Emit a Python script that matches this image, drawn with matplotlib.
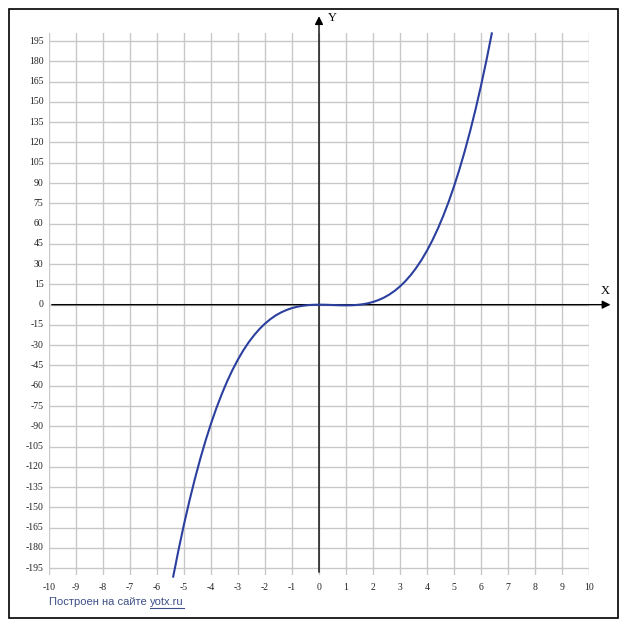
import matplotlib
matplotlib.use("Agg")
import matplotlib.pyplot as plt
from matplotlib.patches import Rectangle
from matplotlib.lines import Line2D

# ------------------------------------------
# DATA
# ------------------------------------------
x_vals = [-5.4, -5.2, -5.0, -4.8, -4.6, -4.4, -4.2, -4.0, -3.8, -3.6,
          -3.4, -3.2, -3.0, -2.8, -2.6, -2.4, -2.2, -2.0, -1.8, -1.6,
          -1.4, -1.2, -1.0, -0.8, -0.6, -0.4, -0.2, 0.0, 0.2, 0.4,
          0.6, 0.8, 1.0, 1.2, 1.4, 1.6, 1.8, 2.0, 2.2, 2.4,
          2.6, 2.8, 3.0, 3.2, 3.4, 3.6, 3.8, 4.0, 4.2, 4.4,
          4.6, 4.8, 5.0, 5.2, 5.4, 5.6, 5.8, 6.0, 6.2, 6.4]
y_vals = [-201.2, -181.2, -162.5, -145.2, -129.1, -114.2, -100.5, -88.0, -76.5, -66.1,
          -56.6, -48.1, -40.5, -33.7, -27.7, -22.5, -17.9, -14.0, -10.7, -7.9,
          -5.7, -3.9, -2.5, -1.5, -0.8, -0.3, -0.1, 0.0, -0.05, -0.18,
          -0.32, -0.45, -0.5, -0.43, -0.2, 0.26, 0.97, 2.0, 3.39, 5.18,
          7.44, 10.19, 13.5, 17.41, 21.96, 27.22, 33.21, 40.0, 47.63, 56.14,
          65.6, 76.03, 87.5, 100.05, 113.72, 128.58, 144.65, 162.0, 180.67, 200.7]

x_ticks = list(range(-10, 11))
y_ticks = list(range(-195, 196, 15))

W, H = 627, 630
fig = plt.figure(figsize=(W / 100, H / 100), dpi=100)

# outer frame
fig.patches.append(Rectangle((9 / W, 12 / H), 609 / W, 609 / H, transform=fig.transFigure,
                             fill=False, edgecolor="black", linewidth=1.2))

ax = fig.add_axes([49 / W, 55 / H, 540 / W, 542 / H])
ax.set_xlim(-10, 10)
ax.set_ylim(-200, 201)
for s in ax.spines.values():
    s.set_visible(False)

# grid
for xv in x_ticks:
    ax.axvline(xv, color="#c8c8c8", linewidth=1, zorder=1)
for yv in y_ticks:
    ax.axhline(yv, color="#c8c8c8", linewidth=1, zorder=1)

ax.set_xticks([])
ax.set_yticks([])

tick_font = dict(family="Liberation Serif", fontsize=7, color="#222222")
for xv in x_ticks:
    ax.text(xv, -206, str(xv), ha="center", va="top", **tick_font)
for yv in y_ticks:
    ax.text(-10.2, yv, str(yv), ha="right", va="center", **tick_font)

# axes with arrows
ax.annotate("", xy=(10.9, 0), xytext=(-10, 0),
            arrowprops=dict(arrowstyle="-|>", color="black", lw=1, mutation_scale=12),
            annotation_clip=False, zorder=3)
ax.annotate("", xy=(0, 215.5), xytext=(0, -200),
            arrowprops=dict(arrowstyle="-|>", color="black", lw=1, mutation_scale=12),
            annotation_clip=False, zorder=3)
ax.text(10.6, 6, "X", family="Liberation Serif", fontsize=9, ha="center", va="bottom")
ax.text(0.5, 212, "Y", family="Liberation Serif", fontsize=9, ha="center", va="center")

# curve
ax.plot(x_vals, y_vals, color="#2b3f9e", linewidth=1.5, zorder=4, clip_on=False)

# footer
foot_col = "#3d4f86"
t1 = fig.text(49 / W, 1 - 602 / H, "Построен на сайте ", fontsize=8, color=foot_col,
              family="Liberation Sans", ha="left", va="center")
renderer = fig.canvas.get_renderer()
bb = t1.get_window_extent(renderer)
t2 = fig.text(bb.x1 / W, 1 - 602 / H, "yotx.ru", fontsize=8, color=foot_col,
              family="Liberation Sans", ha="left", va="center")
bb2 = t2.get_window_extent(renderer)
fig.lines.append(Line2D([bb2.x0 / W, bb2.x1 / W], [1 - 608 / H, 1 - 608 / H],
                        transform=fig.transFigure, color=foot_col, linewidth=0.8))

fig.savefig("out.png", dpi=100)
